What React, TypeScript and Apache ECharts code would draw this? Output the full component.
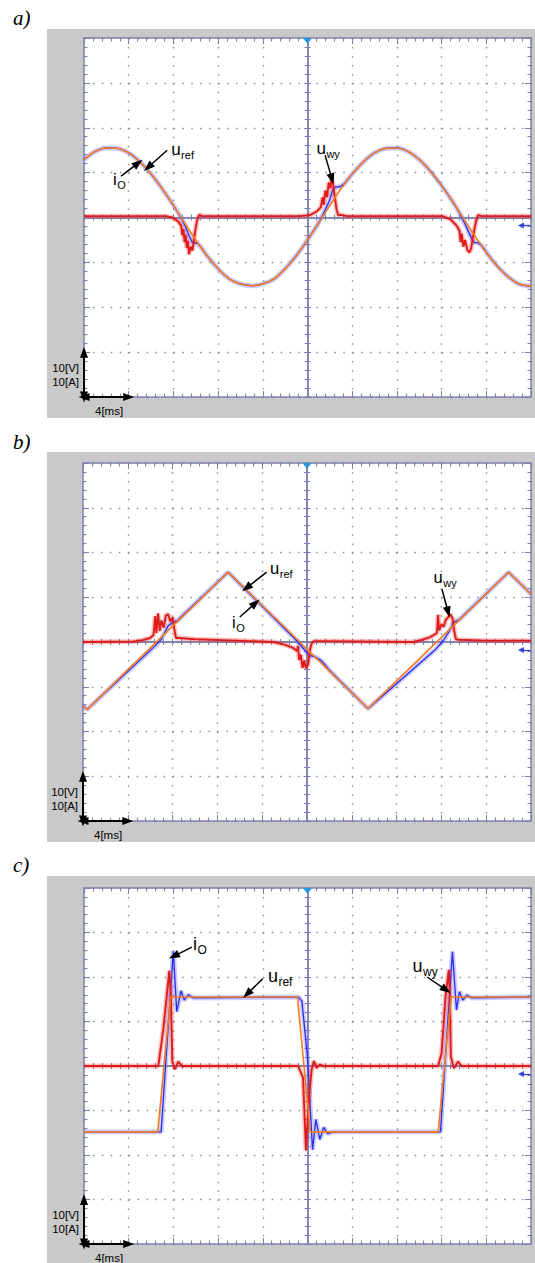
import React, { useEffect, useRef } from 'react';
import * as echarts from 'echarts';

type P = [number, number];

// ---------------- data (time in ms, values in V / A) ----------------
const T_MAX = 40;
const V_LIM = 40;

// a) sinusoidal reference
const timeA = [0,1,2,3,4,5,6,7,8,9,10,11,12,13,14,15,16,17,18,19,20,21,22,23,24,25,26,27,28,29,30,31,32,33,34,35,36,37,38,39,40];
const uRefAValues = [12.9,14.7,15.5,15.4,14.4,12.4,9.7,6.4,2.7,-1.2,-5.0,-8.5,-11.4,-13.7,-14.8,-15.2,-14.8,-13.7,-11.4,-8.5,-5.0,-1.2,2.7,6.4,9.7,12.4,14.4,15.4,15.5,14.7,12.9,10.3,7.1,3.5,-0.4,-4.2,-7.8,-10.9,-13.3,-14.9,-15.3];
const ioA: P[] = [[0,12.9],[1,14.7],[2,15.5],[3,15.4],[4,14.4],[5,12.4],[6,9.7],[7,6.4],[8,2.7],[8.6,0.3],[9.0,-1.6],[9.4,-4.0],[9.7,-5.5],[10.1,-5.7],[10.4,-6.4],[11,-8.5],[12,-11.4],[13,-13.7],[14,-14.8],[15,-15.2],[16,-14.8],[17,-13.7],[18,-11.4],[19,-8.5],[20,-5.0],[21,-1.2],[21.6,1.8],[22.0,4.0],[22.35,6.6],[22.9,6.9],[23.3,7.6],[24,9.7],[25,12.4],[26,14.4],[27,15.4],[28,15.5],[29,14.7],[30,12.9],[31,10.3],[32,7.1],[33,3.5],[33.6,1.0],[34.2,-2.0],[34.6,-4.2],[34.9,-5.5],[35.3,-5.7],[35.7,-6.6],[36.2,-8.4],[37,-10.9],[38,-13.3],[39,-14.9],[40,-15.3]];
const uWyA: P[] = [[0,0.3],[7.3,0.3],[7.9,0.0],[8.4,-0.8],[8.7,-1.8],[8.8,-4.0],[8.9,-2.6],[9.0,-5.5],[9.1,-3.8],[9.2,-6.8],[9.3,-5.2],[9.4,-8.2],[9.55,-6.5],[9.7,-7.4],[9.85,-4.8],[10.0,-2.2],[10.15,-0.4],[10.3,0.6],[10.6,0.3],[19.3,0.3],[20.2,0.5],[20.8,1.3],[21.2,2.3],[21.35,4.5],[21.45,2.8],[21.6,6.0],[21.75,4.5],[21.9,7.8],[22.05,6.5],[22.15,8.7],[22.3,7.2],[22.45,4.5],[22.6,1.8],[22.75,0.5],[23,0.6],[23.5,0.3],[32.1,0.3],[32.8,-0.4],[33.4,-2.0],[33.6,-3.0],[33.7,-5.5],[33.8,-3.6],[33.95,-6.5],[34.1,-5.0],[34.3,-7.2],[34.5,-7.8],[34.65,-6.8],[34.8,-4.5],[34.95,-2.5],[35.1,-0.6],[35.25,0.5],[35.6,0.3],[40,0.3]];

// b) triangular reference
const uRefB: P[] = [[0,-14.2],[0.36,-15.1],[12.95,15.6],[25.45,-14.9],[38.0,15.6],[40,10.7]];
const ioB: P[] = [[0,-14.2],[0.36,-15.1],[6.3,-1.2],[7.0,0.6],[7.6,3.6],[8.0,4.4],[8.4,4.7],[9.0,6.2],[12.95,15.6],[19.0,0.5],[19.7,-1.5],[20.2,-3.0],[20.8,-3.4],[21.3,-4.2],[22,-6.3],[25.45,-14.9],[31.5,-1.6],[32.2,0.4],[32.7,2.4],[33.1,4.4],[33.6,5.0],[34.2,6.5],[38.0,15.6],[40,10.7]];
const uWyB: P[] = [[0,0],[4.5,0.1],[5.3,0.4],[6.0,0.9],[6.3,1.6],[6.45,5.8],[6.55,2.0],[6.7,6.4],[6.85,2.5],[7.0,4.8],[7.2,3.2],[7.4,5.9],[7.6,6.2],[7.8,4.6],[8.0,5.5],[8.15,3.0],[8.3,0.9],[8.6,0.9],[10,0.6],[15,0.2],[17,0],[18,-0.6],[18.75,-1.3],[19.1,-2.0],[19.2,-0.9],[19.3,-4.0],[19.45,-2.8],[19.6,-5.8],[19.75,-4.2],[19.9,-5.9],[20.1,-5.0],[20.25,-2.0],[20.4,-0.4],[20.6,0.2],[21.5,0.2],[29.5,0],[30.3,0.5],[31.0,1.1],[31.6,2.0],[31.7,6.1],[31.8,2.6],[32.0,4.0],[32.2,3.4],[32.4,5.0],[32.6,5.5],[32.8,6.2],[33.0,5.2],[33.15,2.4],[33.3,0.6],[33.6,0.5],[36,0.3],[40,0.3]];

// c) trapezoidal (square-like) reference
const uRefC: P[] = [[0,-14.8],[6.6,-14.8],[7.75,15.5],[19.1,15.5],[20.25,-14.8],[31.7,-14.8],[32.85,15.5],[40,15.5]];
const ioC: P[] = [[0,-14.8],[6.9,-14.8],[7.99,25.8],[8.3,12.2],[8.68,16.9],[8.97,14.8],[9.33,16.0],[9.8,15.3],[19.2,15.5],[19.5,14.5],[20.0,2.0],[20.45,-18.8],[20.75,-12.0],[21.1,-16.5],[21.45,-13.8],[21.8,-15.2],[22.3,-14.8],[31.9,-14.8],[32.97,25.7],[33.33,12.6],[33.6,16.7],[33.9,14.8],[34.25,15.9],[34.7,15.3],[40,15.5]];
const uWyC: P[] = [[0,0],[6.65,0],[7.09,8.1],[7.4,15.6],[7.63,21.4],[7.78,15.6],[7.9,1.0],[8.14,-0.7],[8.43,1.0],[8.74,0],[19.17,0],[19.6,-2.6],[19.86,-19.0],[20.1,-8.0],[20.37,-0.8],[20.57,1.1],[20.8,-0.4],[21.1,0.3],[21.4,0],[31.69,0],[32.0,2.9],[32.35,15.6],[32.65,21.6],[32.74,15.6],[32.83,2.1],[33.1,-0.5],[33.48,1.0],[33.78,0],[40,0]];

// annotations (data coordinates)
const notesA = [{ main: 'u', sub: 'ref', t: 7.8, v: 13.9 }, { main: 'i', sub: 'O', t: 2.6, v: 7.2 }, { main: 'u', sub: 'wy', t: 20.8, v: 14.1 }];
const arrowsA = [[7.44, 15.0, 5.74, 11.2], [3.32, 9.2, 4.84, 12.1], [21.57, 13.9, 22.19, 8.6]];
const notesB = [{ main: 'u', sub: 'ref', t: 16.7, v: 15.2 }, { main: 'i', sub: 'O', t: 13.3, v: 3.1 }, { main: 'u', sub: 'wy', t: 31.3, v: 13.2 }];
const arrowsB = [[16.4, 15.6, 14.6, 12.1], [14.0, 5.6, 15.4, 8.7], [32.05, 11.8, 32.6, 6.7]];
const notesC = [{ main: 'i', sub: 'O', t: 9.75, v: 26.1 }, { main: 'u', sub: 'ref', t: 16.46, v: 18.9 }, { main: 'u', sub: 'wy', t: 29.4, v: 21.1 }];
const arrowsC = [[9.66, 26.7, 8.05, 24.7], [16.0, 19.6, 14.6, 16.2], [30.7, 20.0, 32.4, 17.1]];

const panelLetters = ['a)', 'b)', 'c)'];
const scaleTexts = ['10[V]', '10[A]', '4[ms]'];
const groundLevel = -1.8;

// ---------------- layout & style ----------------
const PANELS = [
  { left: 84, top: 38, width: 447, height: 359, grayTop: 29, grayBottom: 418, letterY: 25, fMain: 17, fSub: 11, smooth: 0.25 },
  { left: 83, top: 463, width: 448, height: 358, grayTop: 452, grayBottom: 842, letterY: 449, fMain: 16.5, fSub: 11, smooth: false },
  { left: 84, top: 888, width: 447, height: 356, grayTop: 876, grayBottom: 1263, letterY: 872, fMain: 18, fSub: 12, smooth: false },
];
const AXIS_C = '#7c80ae';
const DOT_C = '#8d8d8d';
const SANS = '"Liberation Sans", Arial, sans-serif';
const SERIF = '"Liberation Serif", "Times New Roman", serif';

export default function App() {
  const ref = useRef<HTMLDivElement>(null);
  useEffect(() => {
    const el = ref.current!;
    const chart = echarts.init(el, null, { renderer: 'svg' });

    const uRefA: P[] = timeA.map((t, k) => [t, uRefAValues[k]]);
    const sets = [
      { io: ioA, uwy: uWyA, uref: uRefA, notes: notesA, arrows: arrowsA },
      { io: ioB, uwy: uWyB, uref: uRefB, notes: notesB, arrows: arrowsB },
      { io: ioC, uwy: uWyC, uref: uRefC, notes: notesC, arrows: arrowsC },
    ];

    const grids: any[] = [];
    const xAxes: any[] = [];
    const yAxes: any[] = [];
    const series: any[] = [];
    const tickSt = { color: AXIS_C, width: 1 };
    const lineSt = { color: AXIS_C, width: 1.5 };

    PANELS.forEach((p, i) => {
      grids.push({ left: p.left, top: p.top, width: p.width, height: p.height, show: true, backgroundColor: '#fff', borderWidth: 0 });
      const xBase = { gridIndex: i, type: 'value', min: 0, max: T_MAX, interval: 4, axisLabel: { show: false }, splitLine: { show: false } };
      const yBase = { gridIndex: i, type: 'value', min: -V_LIM, max: V_LIM, interval: 10, axisLabel: { show: false }, splitLine: { show: false } };
      const xDash = [1.5, p.height / 40 - 1.5];
      const yDash = [1.5, p.width / 50 - 1.5];
      xAxes.push(
        { ...xBase, position: 'bottom', axisLine: { show: true, onZero: false, lineStyle: lineSt }, axisTick: { show: true, inside: true, length: 6, lineStyle: tickSt }, minorTick: { show: true, splitNumber: 5, length: 3.5, lineStyle: tickSt }, splitLine: { show: true, lineStyle: { color: DOT_C, width: 1.4, type: xDash } } },
        { ...xBase, position: 'top', axisLine: { show: true, onZero: false, lineStyle: lineSt }, axisTick: { show: true, inside: true, length: 6, lineStyle: tickSt }, minorTick: { show: true, splitNumber: 5, length: 3.5, lineStyle: tickSt } },
        { ...xBase, position: 'bottom', offset: -p.height / 2, axisLine: { show: true, onZero: false, lineStyle: lineSt }, axisTick: { show: true, inside: false, length: 3.5, lineStyle: tickSt }, minorTick: { show: true, splitNumber: 5, length: 3, lineStyle: tickSt } },
        { ...xBase, position: 'top', offset: -p.height / 2, axisLine: { show: true, onZero: false, lineStyle: lineSt }, axisTick: { show: true, inside: false, length: 3.5, lineStyle: tickSt }, minorTick: { show: true, splitNumber: 5, length: 3, lineStyle: tickSt } },
      );
      yAxes.push(
        { ...yBase, position: 'left', axisLine: { show: true, onZero: false, lineStyle: lineSt }, axisTick: { show: true, inside: true, length: 6, lineStyle: tickSt }, minorTick: { show: true, splitNumber: 5, length: 3.5, lineStyle: tickSt }, splitLine: { show: true, lineStyle: { color: DOT_C, width: 1.4, type: yDash } } },
        { ...yBase, position: 'right', axisLine: { show: true, onZero: false, lineStyle: lineSt }, axisTick: { show: true, inside: true, length: 6, lineStyle: tickSt }, minorTick: { show: true, splitNumber: 5, length: 3.5, lineStyle: tickSt } },
        { ...yBase, position: 'left', offset: -p.width / 2, axisLine: { show: true, onZero: false, lineStyle: lineSt }, axisTick: { show: true, inside: false, length: 3.5, lineStyle: tickSt }, minorTick: { show: true, splitNumber: 5, length: 3, lineStyle: tickSt } },
        { ...yBase, position: 'right', offset: -p.width / 2, axisLine: { show: true, onZero: false, lineStyle: lineSt }, axisTick: { show: true, inside: false, length: 3.5, lineStyle: tickSt }, minorTick: { show: true, splitNumber: 5, length: 3, lineStyle: tickSt } },
      );

      const d = sets[i];
      const common = { type: 'line', xAxisIndex: i * 4, yAxisIndex: i * 4, symbol: 'none', silent: true, animation: false, emphasis: { disabled: true } };
      series.push({ ...common, data: d.io, smooth: p.smooth, lineStyle: { color: 'rgba(120,120,255,0.38)', width: 5 } });
      series.push({
        ...common, data: d.io, smooth: p.smooth, clip: false, lineStyle: { color: '#2b2be8', width: 1.3 },
        markLine: {
          silent: true, animation: false, symbol: ['none', 'triangle'], symbolSize: [6, 6], label: { show: false },
          lineStyle: { color: '#2e46e0', width: 1.3, type: 'solid' }, emphasis: { disabled: true },
          data: [[{ coord: [39.95, groundLevel] }, { coord: [39.1, groundLevel] }]],
        },
      });
      series.push({ ...common, data: d.uwy, lineStyle: { color: 'rgba(240,50,50,0.3)', width: 5 } });
      series.push({ ...common, data: d.uwy, lineStyle: { color: '#e01b1b', width: 1.9 } });
      series.push({
        ...common, data: d.uref, smooth: p.smooth, clip: false, lineStyle: { color: '#f47b20', width: 1.6 },
        markLine: {
          silent: true, animation: false, symbol: ['none', 'triangle'], symbolSize: [8, 11], label: { show: false },
          lineStyle: { color: '#000', width: 1.5, type: 'solid' }, emphasis: { disabled: true },
          data: [
            ...d.arrows.map((a) => [{ coord: [a[0], a[1]] }, { coord: [a[2], a[3]] }]),
            [{ coord: [0, -V_LIM], symbol: 'triangle', lineStyle: { color: '#000', width: 2 } }, { coord: [0, -V_LIM + 10] }],
            [{ coord: [0, -V_LIM], symbol: 'triangle', lineStyle: { color: '#000', width: 2 } }, { coord: [4, -V_LIM] }],
          ],
        },
        markPoint: {
          silent: true, animation: false, symbol: 'triangle', symbolSize: [9, 6], symbolRotate: 180, symbolOffset: [0, 3],
          itemStyle: { color: '#2a98dc' }, label: { show: false }, data: [{ coord: [T_MAX / 2, V_LIM] }],
        },
      });
    });

    chart.setOption({ animation: false, grid: grids, xAxis: xAxes, yAxis: yAxes, series });

    // ----- graphics: background, labels, annotations -----
    const ctx = document.createElement('canvas').getContext('2d')!;
    const measure = (txt: string, size: number) => { ctx.font = `${size}px ${SANS}`; return ctx.measureText(txt).width; };
    const text = (x: number, baseline: number, str: string, size: number, family = SANS, align = 'left', italic = false) => ({
      type: 'text', x, y: baseline - 0.35 * size, silent: true, z: 10,
      style: { text: str, fontSize: size, fontFamily: family, fontStyle: italic ? 'italic' : 'normal', fill: '#000', align, verticalAlign: 'middle' },
    });

    const g: any[] = [];
    PANELS.forEach((p, i) => {
      g.push({ type: 'rect', z: -10, silent: true, shape: { x: 47, y: p.grayTop, width: 488, height: p.grayBottom - p.grayTop }, style: { fill: '#c9c9c9' } });
      g.push(text(13, p.letterY, panelLetters[i], 21, SERIF, 'left', true));
      const corner = chart.convertToPixel({ gridIndex: i } as any, [0, -V_LIM]) as number[];
      g.push(text(corner[0] - 5, corner[1] - 25, scaleTexts[0], 11.5, SANS, 'right'));
      g.push(text(corner[0] - 5, corner[1] - 11, scaleTexts[1], 11.5, SANS, 'right'));
      g.push(text(corner[0] + 11, corner[1] + 18.5, scaleTexts[2], 11.5, SANS, 'left'));
      sets[i].notes.forEach((n) => {
        const pt = chart.convertToPixel({ gridIndex: i } as any, [n.t, n.v]) as number[];
        g.push(text(pt[0], pt[1], n.main, p.fMain));
        g.push(text(pt[0] + measure(n.main, p.fMain) + 0.5, pt[1] + 4, n.sub, p.fSub));
      });
    });
    chart.setOption({ graphic: { elements: g } });

    return () => chart.dispose();
  }, []);

  return <div ref={ref} style={{ position: 'absolute', left: 0, top: 0, width: 535, height: 1263 }} />;
}
